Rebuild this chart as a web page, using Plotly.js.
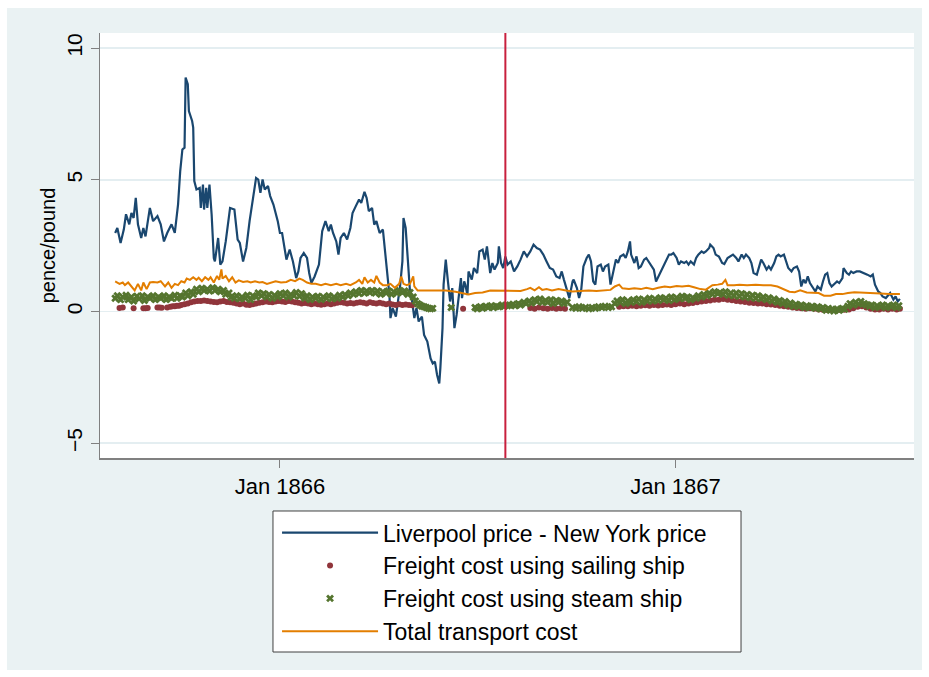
<!DOCTYPE html>
<html>
<head>
<meta charset="utf-8">
<script src="https://cdn.plot.ly/plotly-3.0.1.min.js"></script>
<style>html,body{margin:0;padding:0;background:#fff;}#chart{width:929px;height:677px;}</style>
</head>
<body>
<div id="chart"></div>
<script>
// Days are counted from 1 Jan 1866 (negative = 1865)
const priceGapDays = [
 -152,-150,-147,-144,-142,-139,-137,-135,-133,-131,
 -128,-126,-124,-120,-117,-113,-110,-107,-104,-100,
 -97,-94,-92,-90,-88,-87,-85,-84,-81,-80,
 -79,-77,-74,-73,-71,-70,-68,-67,-65,-63,
 -61,-60,-57,-55,-53,-50,-46,-42,-39,-37,
 -34,-31,-28,-25,-22,-20,-18,-16,-14,-11,
 -9,-6,-2,0,2,6,9,12,15,17,
 19,22,25,27,29,32,36,39,42,45,
 47,49,52,54,56,59,62,65,67,70,
 73,75,78,80,82,85,87,89,92,95,
 97,99,101,102,104,107,109,111,113,114,
 116,118,120,122,124,126,128,131,133,136,
 139,141,143,145,147,148,150,151,153,155,
 157,159,160,161,163,165,167,168,170,171,
 173,174,177,179,182,184,187,189,191,194,
 196,198,201,202,204,206,208,210,213,216,
 219,222,225,228,231,234,237,240,243,246,
 249,252,255,258,260,262,265,267,270,271,
 274,276,278,280,283,285,287,289,291,293,
 296,298,300,303,305,308,310,312,314,317,
 319,321,323,324,327,329,331,333,336,338,
 340,343,345,347,350,352,354,357,359,361,
 363,366,368,370,373,375,377,379,382,384,
 386,389,391,393,396,397,400,402,405,408,
 410,413,415,418,421,423,426,428,430,433,
 435,437,440,442,444,446,449,451,453,456,
 458,460,462,465,467,469,472,474,477,479,
 481,483,485,487,489,492,494,496,499,501,
 503,505,507,509,512,514,516,519,520,523,
 525,527,529,532,535,539,542,545,547,549,
 552,554,556,559,561,563,566,568,570,572
];
const priceGap = [
 2.98,3.17,2.6,3.12,3.69,3.31,3.74,3.55,4.31,3.31,
 2.79,3.17,2.85,3.93,3.43,3.62,3.31,2.66,2.98,3.31,
 2.98,4.06,5.33,6.15,6.22,8.88,8.63,7.61,7.23,6.98,
 4.95,4.63,4.69,3.93,4.82,3.87,4.69,3.93,4.82,3.68,
 2.03,1.9,2.79,1.78,1.9,2.66,3.93,3.87,2.73,2.6,
 1.9,2.41,3.43,4.19,5.07,5.01,4.5,5.01,4.63,4.76,
 4.38,4.06,3.43,2.98,2.98,1.97,2.35,1.9,1.27,1.52,
 2.03,2.22,2.03,1.46,1.08,1.33,1.78,3.05,3.43,3.05,
 3.3,2.98,2.66,2.16,2.79,2.98,2.73,3.17,3.74,4.0,
 4.25,4.12,4.54,4.31,3.81,3.93,3.3,3.43,2.98,3.11,
 2.35,1.52,0.63,-0.25,0.13,-0.19,0.38,1.02,1.9,3.55,
 3.17,1.9,0.76,0.38,-0.25,0.13,-0.38,-0.19,-0.89,-1.14,
 -1.78,-1.97,-1.9,-2.41,-2.73,-2.16,-0.63,1.02,1.97,1.14,
 0.38,0.89,-0.19,-0.63,-0.13,0.63,1.27,0.51,1.14,1.02,
 0.63,1.52,1.21,1.65,1.46,2.28,2.35,1.97,2.47,1.46,
 1.84,1.59,1.84,2.47,1.84,1.65,2.09,1.78,1.9,1.52,
 1.71,1.97,2.28,2.09,2.28,2.54,2.41,2.35,2.16,1.9,
 1.65,1.59,1.33,1.27,1.52,1.21,0.83,0.51,1.14,1.21,
 0.89,0.51,0.83,1.71,2.03,2.16,1.9,1.14,1.02,1.71,
 1.78,1.52,1.71,1.78,1.02,1.65,1.97,1.84,2.09,2.16,
 2.03,2.28,2.66,2.16,1.84,2.09,1.65,1.71,1.97,2.03,
 1.9,1.71,1.59,1.14,1.4,1.59,1.78,2.03,2.16,2.16,
 2.22,2.03,1.78,1.9,1.84,1.9,1.78,1.9,1.78,2.03,
 2.16,2.28,2.22,2.28,2.41,2.54,2.41,2.16,2.09,1.84,
 1.8,2.03,2.09,2.16,2.03,1.9,2.16,2.03,2.16,2.03,
 1.84,1.46,1.4,1.71,1.97,1.84,1.59,1.71,1.59,1.84,
 2.09,2.16,2.09,2.16,1.9,1.65,1.52,1.65,1.71,1.52,
 0.95,1.21,1.08,1.33,1.08,0.89,0.76,0.95,0.83,1.14,
 1.4,1.46,1.08,0.95,1.08,1.14,1.08,1.27,1.65,1.46,
 1.4,1.52,1.46,1.52,1.52,1.46,1.4,1.33,1.4,1.02,
 0.76,0.7,0.57,0.51,0.63,0.7,0.45,0.57,0.38,0.48
];

const sailDays = [
 -148,-145,-135,-126,-124,-122,-113,-111,-109,-104,-101,-99,-97,-95,-93,
 -91,-88,-85,-82,-79,-76,-73,-70,-67,-64,-61,-58,-55,-52,-49,-46,-43,-40,-37,-34,
 -31,-28,-25,-22,-19,-16,-13,-10,-7,-4,-1,2,5,8,11,14,17,20,23,26,
 29,32,35,38,41,44,47,50,53,56,59,62,65,68,71,74,77,80,83,86,
 89,92,95,98,101,104,107,110,113,116,119,122,
 169,
 231,235,239,243,247,251,255,259,263,
 313,317,321,325,329,333,337,341,345,349,353,357,361,365,369,373,377,381,385,389,
 393,397,401,405,409,413,417,421,425,429,433,437,441,445,449,453,457,461,465,469,
 473,477,481,485,489,493,497,501,505,509,513,517,521,525,529,533,537,541,545,549,
 553,557,561,565,569,572
];
const sailCost = [
 0.13,0.15,0.12,0.12,0.12,0.13,0.15,0.15,0.14,0.15,0.18,0.2,0.2,0.22,0.22,
 0.25,0.28,0.3,0.35,0.38,0.4,0.4,0.42,0.4,0.38,0.36,0.35,0.38,0.4,0.36,0.35,0.33,0.3,0.28,0.3,
 0.26,0.25,0.28,0.3,0.33,0.35,0.38,0.36,0.35,0.38,0.4,0.38,0.36,0.4,0.38,0.35,0.33,0.3,0.32,0.3,
 0.28,0.3,0.28,0.26,0.28,0.3,0.28,0.3,0.33,0.35,0.33,0.3,0.32,0.3,0.33,0.35,0.33,0.3,0.35,0.32,
 0.3,0.33,0.3,0.28,0.3,0.27,0.25,0.28,0.25,0.27,0.25,0.24,
 0.1,
 0.13,0.1,0.15,0.12,0.1,0.13,0.1,0.12,0.1,
 0.18,0.2,0.2,0.22,0.2,0.22,0.24,0.22,0.25,0.23,0.25,0.27,0.25,0.28,0.3,0.28,0.3,0.32,0.35,0.38,
 0.4,0.42,0.45,0.45,0.47,0.45,0.43,0.4,0.38,0.36,0.33,0.32,0.3,0.3,0.28,0.27,0.25,0.22,0.2,0.18,
 0.15,0.13,0.12,0.1,0.12,0.1,0.08,0.07,0.06,0.06,0.07,0.06,0.07,0.08,0.12,0.18,0.2,0.15,0.1,0.08,
 0.08,0.1,0.08,0.1,0.08,0.1
];

const steamDays = [
 -152,-150,-147,-145,-142,-140,-137,-135,-132,-130,-127,-125,-122,-120,-117,-115,-112,-110,-107,-105,
 -102,-100,-97,-95,-92,-90,-87,-85,-82,-80,-77,-75,-72,-70,-67,-65,-62,-60,-57,-55,
 -52,-50,-47,-45,-42,-40,-37,-35,-32,-30,-27,-25,-22,-20,-17,-15,-12,-10,-7,-5,
 -2,0,3,5,8,10,13,15,18,20,23,25,28,30,33,35,38,40,43,45,
 48,50,53,55,58,60,63,65,68,70,73,75,78,80,83,85,88,90,93,95,
 98,100,103,105,108,110,113,115,118,120,123,125,127,129,131,133,135,137,139,141,
 158,
 180,182,185,187,190,192,195,197,200,202,205,207,210,212,215,217,220,222,225,227,
 230,232,235,237,240,242,245,247,250,252,255,257,260,262,265,
 270,273,276,279,282,285,288,291,294,297,300,303,306,
 309,311,314,316,319,321,324,326,329,331,334,336,339,341,344,346,349,351,354,356,
 359,361,364,366,369,371,374,376,379,381,384,386,389,391,394,396,399,401,404,406,
 409,411,414,416,419,421,424,426,429,431,434,436,439,441,444,446,449,451,454,456,
 459,461,464,466,469,471,474,476,479,481,484,486,489,491,494,496,499,501,504,506,
 509,511,514,516,519,521,524,526,529,531,534,536,539,541,544,546,549,551,554,556,
 559,561,564,566,569,571
];
const steamCost = [
 0.5,0.6,0.45,0.55,0.62,0.45,0.55,0.4,0.58,0.48,0.6,0.42,0.55,0.5,0.6,0.45,0.55,0.5,0.6,0.45,
 0.55,0.5,0.62,0.5,0.6,0.55,0.7,0.6,0.75,0.65,0.85,0.75,0.88,0.8,0.85,0.78,0.9,0.8,0.85,0.75,
 0.8,0.65,0.7,0.55,0.5,0.6,0.48,0.55,0.5,0.62,0.45,0.6,0.55,0.7,0.6,0.68,0.55,0.65,0.5,0.62,
 0.55,0.68,0.6,0.7,0.55,0.65,0.6,0.72,0.58,0.68,0.5,0.6,0.45,0.55,0.5,0.58,0.45,0.55,0.5,0.6,
 0.48,0.55,0.5,0.62,0.55,0.65,0.6,0.7,0.65,0.75,0.68,0.8,0.7,0.78,0.72,0.8,0.7,0.78,0.65,0.75,
 0.7,0.78,0.65,0.75,0.7,0.8,0.72,0.78,0.65,0.72,0.55,0.4,0.3,0.25,0.2,0.18,0.15,0.12,0.1,0.12,
 0.15,
 0.15,0.1,0.18,0.12,0.2,0.15,0.22,0.15,0.2,0.18,0.25,0.2,0.22,0.25,0.28,0.22,0.3,0.25,0.35,0.3,
 0.4,0.32,0.45,0.38,0.48,0.35,0.42,0.35,0.45,0.3,0.42,0.35,0.4,0.3,0.35,
 0.15,0.12,0.18,0.12,0.15,0.1,0.15,0.12,0.18,0.15,0.2,0.15,0.18,
 0.3,0.4,0.35,0.45,0.3,0.4,0.35,0.45,0.38,0.48,0.35,0.45,0.4,0.5,0.4,0.48,0.42,0.52,0.45,0.5,
 0.42,0.55,0.45,0.52,0.48,0.58,0.5,0.55,0.45,0.52,0.5,0.6,0.55,0.65,0.6,0.7,0.65,0.75,0.68,0.72,
 0.65,0.75,0.62,0.7,0.6,0.7,0.58,0.68,0.55,0.65,0.52,0.62,0.5,0.6,0.48,0.55,0.45,0.52,0.4,0.48,
 0.35,0.42,0.3,0.38,0.25,0.32,0.2,0.28,0.2,0.25,0.15,0.22,0.15,0.2,0.12,0.18,0.1,0.15,0.05,0.12,
 0.08,0.02,0.1,0.05,0.12,0.08,0.2,0.3,0.25,0.35,0.28,0.38,0.3,0.25,0.2,0.25,0.15,0.22,0.18,0.25,
 0.15,0.22,0.18,0.25,0.15,0.22
];

const totalDays = [
 -152,-148,-145,-143,-140,-137,-134,-131,-128,-126,
 -123,-120,-117,-113,-110,-106,-103,-100,-97,-94,
 -91,-88,-86,-83,-80,-77,-75,-72,-69,-66,
 -64,-61,-58,-56,-54,-53,-50,-47,-44,-41,
 -38,-34,-30,-27,-23,-19,-16,-12,-8,-4,
 1,6,10,14,18,21,25,29,33,38,
 42,47,52,56,61,65,70,73,76,78,
 81,84,87,89,92,95,99,102,106,110,
 112,114,117,120,123,124,127,135,144,153,
 162,169,174,180,187,194,204,213,222,228,
 231,235,239,242,246,251,257,264,270,277,
 285,292,300,305,309,313,316,322,327,333,
 338,344,349,355,360,366,371,377,382,388,
 393,399,404,408,411,413,419,424,431,439,
 446,453,459,464,470,475,480,486,491,497,
 502,508,513,519,524,530,535,541,547,554,
 562,568,572
];
const totalCost = [
 1.14,1.05,1.1,1.0,1.1,0.95,0.8,1.05,0.8,1.1,
 0.85,1.1,1.12,1.1,1.15,0.95,1.1,0.9,1.05,1.0,
 1.15,1.1,1.25,1.2,1.3,1.2,1.28,1.15,1.3,1.2,
 1.3,1.1,1.35,1.2,1.6,1.25,1.35,1.15,1.3,1.1,
 1.18,1.12,1.15,1.1,1.15,1.1,1.12,1.05,1.1,1.15,
 1.1,1.12,1.2,1.15,1.25,1.2,1.1,1.05,1.05,1.0,
 1.05,1.0,1.05,1.0,1.05,1.0,1.1,1.2,1.05,1.3,
 1.1,1.2,1.1,1.35,1.1,1.0,1.0,1.05,0.9,1.05,
 1.33,1.05,1.0,1.05,1.33,0.95,0.8,0.8,0.8,0.8,
 0.75,0.7,0.65,0.7,0.72,0.8,0.8,0.8,0.78,0.85,
 0.9,0.8,0.92,0.82,0.85,0.8,0.85,0.8,0.76,0.78,
 0.8,0.78,0.8,0.82,0.95,1.02,0.88,0.85,0.88,0.85,
 0.9,0.85,0.9,0.95,0.92,0.97,0.95,0.98,0.92,0.85,
 0.83,1.0,1.02,1.05,1.2,1.0,1.0,1.02,1.0,1.02,
 1.0,1.0,0.95,0.85,0.75,0.73,0.8,0.72,0.7,0.7,
 0.6,0.6,0.66,0.66,0.7,0.73,0.72,0.7,0.7,0.68,
 0.66,0.66,0.66
];

const cableDate = '1866-07-28';
const xTickVals = ['1866-01-01', '1867-01-01'];
const xTickText = ['Jan 1866', 'Jan 1867'];
const yTickVals = [-5, 0, 5, 10];
const seriesNames = ['Liverpool price - New York price', 'Freight cost using sailing ship',
                     'Freight cost using steam ship', 'Total transport cost'];

function toDate(d) {
  return new Date(Date.UTC(1866, 0, 1) + d * 86400000).toISOString().slice(0, 10);
}

const FONT = 'Liberation Sans, Arial, sans-serif';

const traces = [
  { x: priceGapDays.map(toDate), y: priceGap, type: 'scatter', mode: 'lines',
    name: seriesNames[0], line: { color: '#1a476f', width: 2.2 } },
  { x: sailDays.map(toDate), y: sailCost, type: 'scatter', mode: 'markers',
    name: seriesNames[1], marker: { color: '#90353b', size: 6, symbol: 'circle' } },
  { x: steamDays.map(toDate), y: steamCost, type: 'scatter', mode: 'markers',
    name: seriesNames[2], marker: { color: '#55752f', size: 7, symbol: 'x' } },
  { x: totalDays.map(toDate), y: totalCost, type: 'scatter', mode: 'lines',
    name: seriesNames[3], line: { color: '#e37e00', width: 2 } }
];

const layout = {
  width: 929, height: 677,
  margin: { l: 100, r: 15, t: 33, b: 219 },
  paper_bgcolor: '#ffffff',
  plot_bgcolor: '#ffffff',
  font: { family: FONT, color: '#000000', size: 21 },
  showlegend: true,
  xaxis: {
    type: 'date',
    range: ['1865-07-19', '1867-08-09'],
    tickvals: xTickVals, ticktext: xTickText,
    ticks: 'outside', ticklen: 8, tickcolor: '#808080', tickwidth: 1,
    showline: true, linecolor: '#808080', linewidth: 1.5,
    showgrid: false, zeroline: false,
    tickfont: { size: 22, family: FONT, color: '#000' }
  },
  yaxis: {
    range: [-5.56, 10.57],
    tickvals: yTickVals,
    ticks: 'outside', ticklen: 8, tickcolor: '#808080', tickwidth: 1,
    showline: true, linecolor: '#808080', linewidth: 1.5,
    showgrid: true, gridcolor: '#e4eef1', gridwidth: 1.5,
    zeroline: false,
    tickangle: -90,
    tickfont: { size: 21, family: FONT, color: '#000' },
    title: { text: 'pence/pound', font: { size: 20, family: FONT, color: '#000' }, standoff: 2 }
  },
  legend: {
    x: 0.2175, y: -0.125, xanchor: 'left', yanchor: 'top',
    bgcolor: 'rgba(0,0,0,0)', borderwidth: 0,
    itemwidth: 96,
    font: { size: 23, family: FONT, color: '#000' },
    tracegroupgap: 0
  },
  shapes: [
    { type: 'rect', xref: 'paper', yref: 'paper', x0: -0.1143, x1: 1.0098, y0: -0.4988, y1: 1.0588,
      fillcolor: '#eaf2f3', line: { width: 0 }, layer: 'below' },
    { type: 'rect', xref: 'paper', yref: 'paper', x0: 0, x1: 1, y0: 0, y1: 1,
      fillcolor: '#ffffff', line: { width: 0 }, layer: 'below' },
    { type: 'rect', xref: 'paper', yref: 'paper', x0: 0.2125, x1: 0.7875, y0: -0.4565, y1: -0.1247,
      fillcolor: '#ffffff', line: { color: '#404040', width: 1 }, layer: 'below' },
    { type: 'line', xref: 'x', yref: 'paper', x0: cableDate, x1: cableDate, y0: 0, y1: 1,
      line: { color: '#c8203e', width: 2 } }
  ]
};

Plotly.newPlot('chart', traces, layout, { displayModeBar: false, staticPlot: true });
</script>
</body>
</html>
